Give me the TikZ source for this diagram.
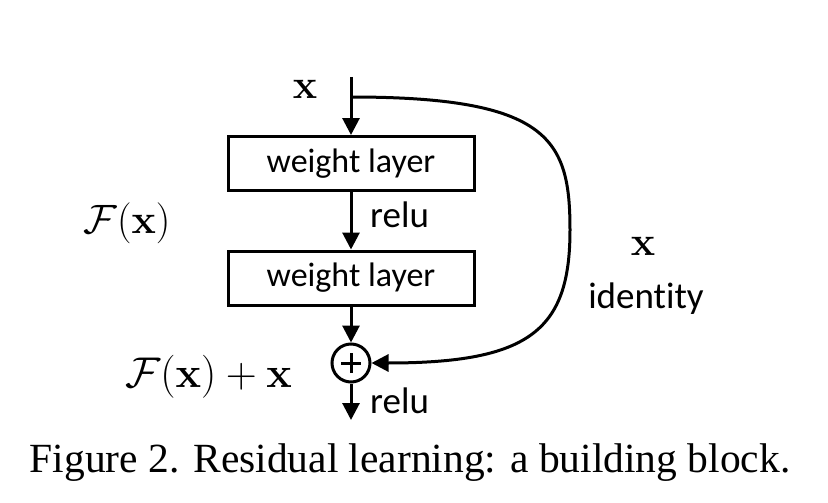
\RequirePackage{fix-cm}
\documentclass[tikz,border=0pt]{standalone}
\usepackage{amsmath}
\usepackage[no-math]{fontspec}
\setmainfont[Ligatures=NoCommon]{Carlito}
\newfontfamily\capfont{Liberation Serif}
\usetikzlibrary{arrows.meta}
\begin{document}
\begin{tikzpicture}[x=1pt,y=-1pt,
  lw/.style={line width=3pt},
  arr/.style={lw,-{Triangle[length=17pt,width=17pt]}},
  layerbox/.style={draw,lw,rectangle,minimum width=246pt,minimum height=54pt,inner sep=0pt,font=\fontsize{34}{40}\selectfont},
  lab/.style={inner sep=0pt,font=\fontsize{37}{44}\selectfont},
  mlab/.style={inner sep=0pt,font=\fontsize{41}{49}\selectfont},
  addnode/.style={draw,lw,circle,minimum size=38pt,inner sep=0pt}]
\path[use as bounding box] (0,0) rectangle (828,503);
\coordinate (in) at (351,77);
\coordinate (split) at (351,97);
\node[layerbox] (w1) at (351,163.5) {weight layer};
\node[layerbox] (w2) at (351,278) {weight layer};
\node[addnode] (add) at (351,363) {};
\coordinate (out) at (351,420);
\draw[lw] ([xshift=-10pt]add.center) -- ([xshift=10pt]add.center)
          ([yshift=-10pt]add.center) -- ([yshift=10pt]add.center);
\draw[arr] (in) -- (w1.north);
\draw[arr] (w1.south) -- (w2.north);
\draw[arr] (w2.south) -- (add.north);
\draw[arr] (add.south) -- (out);
\draw[arr] (split) .. controls (550,97) and (570,140) .. (570,230)
  .. controls (570,330) and (530,363) .. (add.east);
\node[mlab,anchor=base] (xin) at (305,99) {$\mathbf{x}$};
\node[lab,anchor=base west] (relu1) at (370,227) {relu};
\node[lab,anchor=base west] (relu2) at (370,413) {relu};
\node[mlab,anchor=base] (fx) at (127,233) {$\mathcal{F}(\mathbf{x})$};
\node[mlab,anchor=base west,font=\fontsize{43}{51}\selectfont] (fxx) at (125,387) {$\mathcal{F}(\mathbf{x})+\mathbf{x}$};
\node[mlab,anchor=base] (xid) at (643,255) {$\mathbf{x}$};
\node[lab,anchor=base] (ident) at (646,308) {identity};
\node[inner sep=0pt,anchor=base,font=\capfont\fontsize{41.5}{50}\selectfont] (cap) at (410,472) {Figure 2. Residual learning: a building block.};
\end{tikzpicture}
\end{document}
